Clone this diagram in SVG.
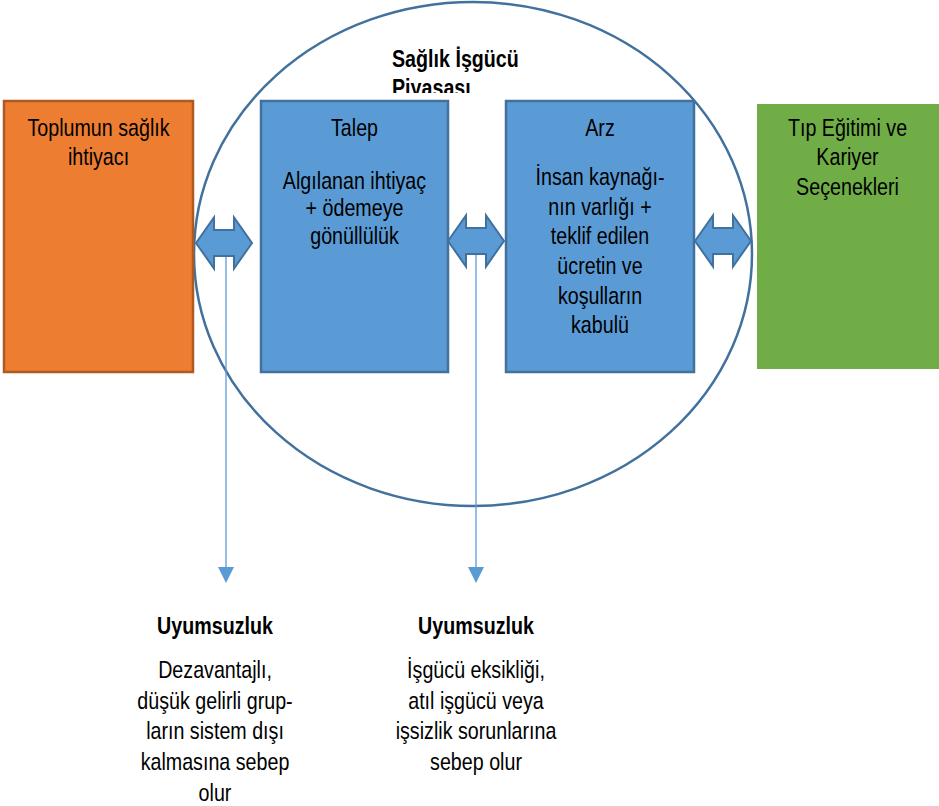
<svg xmlns="http://www.w3.org/2000/svg" width="939" height="806" viewBox="0 0 939 806">
<style>
.t{font-family:"Liberation Sans",Arial,sans-serif;font-size:24px;fill:#000;text-anchor:middle}
.b{font-weight:bold}
.blue{fill:#5b9bd5;stroke:#41719c;stroke-width:2.5}
.dbl{fill:#5b9bd5;stroke:#41719c;stroke-width:2;stroke-linejoin:miter}
.conn{stroke:#5b9bd5;stroke-width:1.3;fill:none}
.head{fill:#5b9bd5}
</style>
<defs>
<path id="dbl" d="M0,0 L18,-25.5 L18,-13 L38,-13 L38,-25.5 L56,0 L38,25.5 L38,13 L18,13 L18,25.5 Z"/>
<clipPath id="titleClip"><rect x="380" y="30" width="200" height="63"/></clipPath>
</defs>
<rect width="939" height="806" fill="#fff"/>
<g id="market">
<ellipse cx="473" cy="254" rx="279" ry="252" fill="none" stroke="#41719c" stroke-width="2.5"/>
<g clip-path="url(#titleClip)">
<text class="t b" style="text-anchor:start" transform="translate(392,67) scale(0.82,1)"><tspan x="0" y="0">Sağlık İşgücü</tspan><tspan x="0" y="29">Piyasası</tspan></text>
</g>
</g>
<g id="connectors">
<line class="conn" x1="226" y1="250" x2="226" y2="569"/>
<polygon class="head" points="218,567 234,567 226,583"/>
<line class="conn" x1="476" y1="248" x2="476" y2="569"/>
<polygon class="head" points="468,567 484,567 476,583"/>
<use href="#dbl" class="dbl" transform="translate(196,243)"/>
<use href="#dbl" class="dbl" transform="translate(448,241)"/>
<use href="#dbl" class="dbl" transform="translate(695,241)"/>
</g>
<g id="need">
<rect x="4" y="101" width="189" height="271" fill="#ed7d31" stroke="#ae5a21" stroke-width="2.5"/>
<text class="t" transform="translate(98.5,136) scale(0.82,1)"><tspan x="0" y="0">Toplumun sağlık</tspan><tspan x="0" y="29">ihtiyacı</tspan></text>
</g>
<g id="demand">
<rect class="blue" x="261" y="101" width="187" height="271"/>
<text class="t" transform="translate(354.5,136) scale(0.82,1)"><tspan x="0" y="0">Talep</tspan><tspan x="0" y="53">Algılanan ihtiyaç</tspan><tspan x="0" y="80.5">+ ödemeye</tspan><tspan x="0" y="108">gönüllülük</tspan></text>
</g>
<g id="supply">
<rect class="blue" x="506" y="101" width="188" height="271"/>
<text class="t" transform="translate(600,136) scale(0.82,1)"><tspan x="0" y="0">Arz</tspan><tspan x="0" y="49">İnsan kaynağı-</tspan><tspan x="0" y="78.7">nın varlığı +</tspan><tspan x="0" y="108.4">teklif edilen</tspan><tspan x="0" y="138">ücretin ve</tspan><tspan x="0" y="167.8">koşulların</tspan><tspan x="0" y="197.5">kabulü</tspan></text>
</g>
<g id="education">
<rect x="757" y="104" width="190" height="265" fill="#70ad47"/>
<text class="t" transform="translate(847.5,136) scale(0.82,1)"><tspan x="0" y="0">Tıp Eğitimi ve</tspan><tspan x="0" y="29.5">Kariyer</tspan><tspan x="0" y="59">Seçenekleri</tspan></text>
</g>
<g id="mismatch1">
<text class="t" transform="translate(215,634) scale(0.82,1)"><tspan class="b" x="0" y="0">Uyumsuzluk</tspan><tspan x="0" y="44">Dezavantajlı,</tspan><tspan x="0" y="74.7">düşük gelirli grup-</tspan><tspan x="0" y="105.4">ların sistem dışı</tspan><tspan x="0" y="136">kalmasına sebep</tspan><tspan x="0" y="166.8">olur</tspan></text>
</g>
<g id="mismatch2">
<text class="t" transform="translate(476,634) scale(0.82,1)"><tspan class="b" x="0" y="0">Uyumsuzluk</tspan><tspan x="0" y="44">İşgücü eksikliği,</tspan><tspan x="0" y="74.7">atıl işgücü veya</tspan><tspan x="0" y="105.4">işsizlik sorunlarına</tspan><tspan x="0" y="136">sebep olur</tspan></text>
</g>
</svg>
